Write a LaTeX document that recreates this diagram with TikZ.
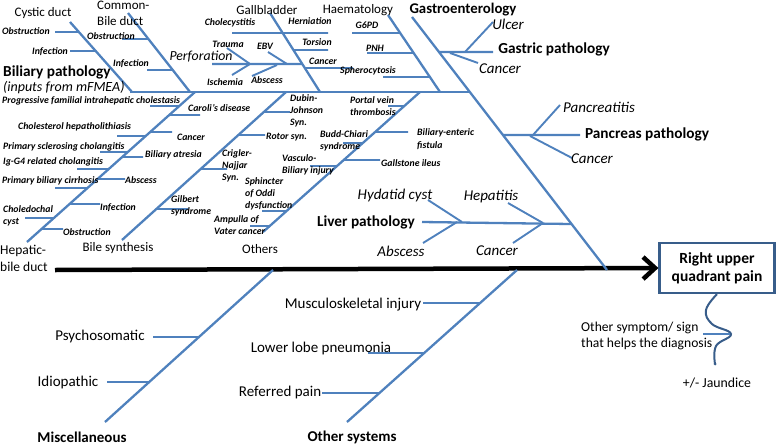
\documentclass[tikz,border=0pt]{standalone}
\usepackage{fontspec}
\setmainfont{Carlito}
\usetikzlibrary{arrows.meta,calc}
\definecolor{fishblue}{RGB}{79,129,189}
\definecolor{boxblue}{RGB}{56,93,138}
\newcommand\twig[4]{\draw[twig] (#3,#4) -- (intersection of #1--#2 and 0,#4--1,#4);}
\begin{document}
\begin{tikzpicture}[x=1pt,y=-1pt,
    bone/.style={draw=fishblue,line width=2.3pt},
    twig/.style={draw=fishblue,line width=1.9pt},
    small/.style={font=\fontsize{9.8}{12.3}\selectfont\bfseries\itshape,inner sep=0pt,align=left},
    medium/.style={font=\fontsize{15}{17}\selectfont\itshape,inner sep=0pt},
    head/.style={font=\fontsize{13}{16}\selectfont,inner sep=0pt,align=left},
    lower/.style={font=\fontsize{15}{17}\selectfont,inner sep=0pt},
    group/.style={font=\fontsize{15.3}{17}\selectfont\bfseries,inner sep=0pt}]
    \useasboundingbox (0,0) rectangle (778,447);

    % main spine and effect
    \node[draw=boxblue,line width=2.2pt,minimum width=115pt,minimum height=50pt,align=center,
          font=\fontsize{15.5}{18}\selectfont\bfseries] (rupq) at (717,268) {Right upper\\quadrant pain};
    \coordinate (tail) at (55,270);
    \draw[line width=4.5pt,-{Straight Barb[length=12pt,width=22pt]}] (tail) -- (rupq.west);

    % bones
    \coordinate (topL) at (130,92);  \coordinate (topR) at (470,92);
    \coordinate (gasA) at (412,17);  \coordinate (gasB) at (607,270);
    \coordinate (haeA) at (388,15);  \coordinate (haeB) at (440,92);
    \coordinate (galA) at (270,13);  \coordinate (galB) at (320,92);
    \coordinate (cysA) at (70,22);   \coordinate (cysB) at (132,92);
    \coordinate (cbdA) at (128,13);  \coordinate (cbdB) at (190,92);
    \coordinate (hbdA) at (195,92);  \coordinate (hbdB) at (27,242);
    \coordinate (bsyA) at (286,92);  \coordinate (bsyB) at (122,240);
    \coordinate (othA) at (420,92);  \coordinate (othB) at (263,232);
    \coordinate (misA) at (273,270); \coordinate (misB) at (105,422);
    \coordinate (osyA) at (517,270); \coordinate (osyB) at (347,422);
    \coordinate (perA) at (212,64);

    \foreach \a/\b in {topL/topR,gasA/gasB,haeA/haeB,galA/galB,cysA/cysB,cbdA/cbdB,
                       hbdA/hbdB,bsyA/bsyB,othA/othB,misA/misB,osyA/osyB}
        \draw[bone] (\a) -- (\b);
    \draw[bone] (perA) -- (intersection of galA--galB and 0,64--1,64);
    \draw[bone] (493,52) -- (intersection of gasA--gasB and 0,52--1,52);
    \draw[bone] (580,135) -- (intersection of gasA--gasB and 0,135--1,135);
    \draw[bone] (422,222) -- (intersection of gasA--gasB and 0,224--1,224);

    % twigs
    \twig{cysA}{cysB}{55}{32}  \twig{cysA}{cysB}{70}{51}
    \twig{cbdA}{cbdB}{122}{39} \twig{cbdA}{cbdB}{147}{70}
    \twig{galA}{galB}{232}{33} \twig{galA}{galB}{328}{33}
    \twig{galA}{galB}{328}{50} \twig{galA}{galB}{353}{68}
    \twig{haeA}{haeB}{352}{33} \twig{haeA}{haeB}{367}{53} \twig{haeA}{haeB}{383}{77}
    \foreach \x/\y in {150/106,200/115,117/136,172/132,100/152,143/157,
                       77/169,125/179,55/188,100/204,25/218,63/229}
        {\twig{hbdA}{hbdB}{\x}{\y}}
    \foreach \x/\y in {290/112,265/135,227/169,188/209}
        {\twig{bsyA}{bsyB}{\x}{\y}}
    \foreach \x/\y in {388/106,408/132,343/143,380/160,310/166,262/211,250/226}
        {\twig{othA}{othB}{\x}{\y}}
    \twig{misA}{misB}{153}{337} \twig{misA}{misB}{107}{382}
    \twig{osyA}{osyB}{423}{303} \twig{osyA}{osyB}{368}{353} \twig{osyA}{osyB}{322}{393}

    % forks
    \draw[twig] (227,48) -- (250,64);  \draw[twig] (232,75) -- (250,64);
    \draw[twig] (268,52) -- (287,64);  \draw[twig] (252,76) -- (277,65);
    \draw[twig] (493,22) -- (465,52);  \draw[twig] (478,63) -- (450,53);
    \draw[twig] (560,105) -- (533,135); \draw[twig] (572,158) -- (530,136);
    \draw[twig] (428,200) -- (462,222); \draw[twig] (423,243) -- (457,222);
    \draw[twig] (508,203) -- (543,223); \draw[twig] (513,243) -- (543,223);

    % other symptom
    \coordinate (jaundEnd) at (715,364);
    \draw[boxblue,line width=2pt] plot[smooth,tension=0.7] coordinates
        {(rupq.south) (706,310) (712,324) (731,334) (716,346) (jaundEnd)};
    \fill[boxblue] (jaundEnd) circle (1.5pt);
    \draw[twig,line width=1.5pt] (703,334) -- (730,334);
    \node[head,font=\fontsize{13.6}{15.5}\selectfont,anchor=west] (sympt) at (581,336)
        {Other symptom/ sign\\that helps the diagnosis};
    \node[head,font=\fontsize{13.8}{15}\selectfont] (jaund) at (717,383) {+/- Jaundice};

    % headings
    \node[head] (cysT) at (43,13) {Cystic duct};
    \node[head,anchor=west] (cbdT) at (97,13) {Common-\\Bile duct};
    \node[head] (galT) at (267,10) {Gallbladder};
    \node[head] (haeT) at (358,10) {Haematology};
    \node[group,font=\fontsize{14.8}{16}\selectfont\bfseries] (gasT) at (463,10) {Gastroenterology};
    \node[group,anchor=west] (bilT) at (3,72) {Biliary pathology};
    \node[medium,anchor=west,font=\fontsize{14}{16}\selectfont\itshape] (bilS) at (3,88) {(inputs from mFMEA)};
    \node[head,font=\fontsize{13.5}{17}\selectfont,anchor=west] (hbdT) at (0,258) {Hepatic-\\bile duct};
    \node[head] (bsyT) at (118,248) {Bile synthesis};
    \node[head] (othT) at (260,249) {Others};
    \node[group,font=\fontsize{15}{17}\selectfont\bfseries] (misT) at (82,437) {Miscellaneous};
    \node[group,font=\fontsize{15}{17}\selectfont\bfseries] (osyT) at (352,437) {Other systems};

    % causes
    \node[small,anchor=west] (cysO) at (2,31) {Obstruction};
    \node[small,anchor=west] (cysI) at (32,52) {Infection};
    \node[small,anchor=west] (cbdO) at (87,36) {Obstruction};
    \node[small,anchor=west] (cbdI) at (113,64) {Infection};
    \node[medium,font=\fontsize{13.8}{16}\selectfont\itshape] (perf) at (201,57) {Perforation};
    \node[small] (trau) at (228,44) {Trauma};
    \node[small] (isch) at (225,82) {Ischemia};
    \node[small] (ebv) at (265,46) {EBV};
    \node[small] (absP) at (267,80) {Abscess};
    \node[small] (chol) at (230,23) {Cholecystitis};
    \node[small] (hern) at (310,21) {Herniation};
    \node[small] (tors) at (317,42) {Torsion};
    \node[small] (canG) at (323,61) {Cancer};
    \node[small] (g6pd) at (367,25) {G6PD};
    \node[small] (pnh) at (375,48) {PNH};
    \node[small] (sphe) at (368,71) {Spherocytosis};
    \node[medium] (ulc) at (508,24) {Ulcer};
    \node[group] (gasP) at (554,49) {Gastric pathology};
    \node[medium] (canS) at (500,69) {Cancer};
    \node[medium] (panc) at (599,107) {Pancreatitis};
    \node[group] (panP) at (647,134) {Pancreas pathology};
    \node[medium] (canP) at (592,159) {Cancer};
    \node[medium] (hyda) at (395,195) {Hydatid cyst};
    \node[group] (livP) at (366,222) {Liver pathology};
    \node[medium] (absL) at (401,251) {Abscess};
    \node[medium] (hepa) at (491,197) {Hepatitis};
    \node[medium] (canL) at (497,251) {Cancer};

    \node[small,anchor=west] (pfic) at (2,101) {Progressive familial intrahepatic cholestasis};
    \node[small,anchor=west] (caro) at (188,108) {Caroli’s disease};
    \node[small,anchor=west] (chhe) at (18,127) {Cholesterol hepatholithiasis};
    \node[small,anchor=west] (canH) at (177,137) {Cancer};
    \node[small,anchor=west] (psc) at (3,147) {Primary sclerosing cholangitis};
    \node[small,anchor=west] (batr) at (145,155) {Biliary atresia};
    \node[small,anchor=west] (igg4) at (3,162) {Ig-G4 related cholangitis};
    \node[small,anchor=west] (absH) at (125,180) {Abscess};
    \node[small,anchor=west] (pbc) at (2,181) {Primary biliary cirrhosis};
    \node[small,anchor=west] (infH) at (100,208) {Infection};
    \node[small,anchor=west] (chcy) at (3,216) {Choledochal\\cyst};
    \node[small,anchor=west] (obsH) at (63,232) {Obstruction};
    \node[small,anchor=west] (dubi) at (290,111) {Dubin-\\Johnson\\Syn.};
    \node[small,anchor=west] (roto) at (266,137) {Rotor syn.};
    \node[small,anchor=west] (crig) at (222,166) {Crigler-\\Najjar\\Syn.};
    \node[small,anchor=west] (gilb) at (171,206) {Gilbert\\syndrome};
    \node[small,anchor=west] (port) at (350,106) {Portal vein\\thrombosis};
    \node[small,anchor=west] (budd) at (320,141) {Budd-Chiari\\syndrome};
    \node[small,anchor=west] (bent) at (417,139) {Biliary-enteric\\fistula};
    \node[small,anchor=west] (gall) at (381,163) {Gallstone ileus};
    \node[small,anchor=west] (vasc) at (282,165) {Vasculo-\\Biliary injury};
    \node[small,anchor=west] (sphi) at (245,194) {Sphincter\\of Oddi\\dysfunction};
    \node[small,anchor=west] (ampu) at (214,225) {Ampulla of\\Vater cancer};

    \node[lower] (psyc) at (100,336) {Psychosomatic};
    \node[lower] (idio) at (68,382) {Idiopathic};
    \node[lower] (musc) at (353,305) {Musculoskeletal injury};
    \node[lower] (lowe) at (321,348) {Lower lobe pneumonia};
    \node[lower] (refe) at (280,392) {Referred pain};
\end{tikzpicture}
\end{document}
